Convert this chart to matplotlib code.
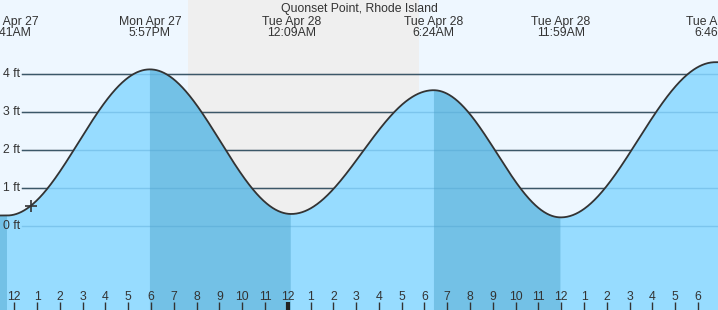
import numpy as np
import matplotlib
matplotlib.use("Agg")
import matplotlib.pyplot as plt
import matplotlib.transforms as mtransforms

# Tide chart for Quonset Point, RI (hours counted from Mon Apr 27, 12:00 PM)
station = "Quonset Point, Rhode Island"

# high / low tide predictions
event_days = ["Mon Apr 27", "Mon Apr 27", "Tue Apr 28", "Tue Apr 28", "Tue Apr 28", "Tue Apr 28"]
event_times = ["11:41AM", "5:57PM", "12:09AM", "6:24AM", "11:59AM", "6:46PM"]
event_heights = [0.27, 4.13, 0.31, 3.58, 0.22, 4.32]

sunset = "7:37PM"      # Mon
sunrise = "5:45AM"     # Tue
now_time = "12:43PM"   # Mon, the + marker

hour_labels = ["12", "1", "2", "3", "4", "5", "6", "7", "8", "9", "10", "11",
               "12", "1", "2", "3", "4", "5", "6", "7", "8", "9", "10", "11",
               "12", "1", "2", "3", "4", "5", "6"]
ft_levels = [0, 1, 2, 3, 4]

SKY = "#eef7ff"
NIGHT = "#efefef"
WATER = "#97dcff"
EBB = "#73c1e6"
INK = "#333333"


def to_hours(day, clock):
    """Hours since Mon 12:00 PM."""
    hm, ampm = clock[:-2], clock[-2:]
    h, m = [int(v) for v in hm.split(":")]
    h = h % 12 + (12 if ampm == "PM" else 0)
    offset = 24 if day.startswith("Tue") else 0
    return offset + h + m / 60.0 - 12


ev_t = np.array([to_hours(d, c) for d, c in zip(event_days, event_times)])
ev_h = np.array(event_heights)

x_lo, x_hi = -0.627, 30.88
y_lo, y_hi = -2.227, 5.963

# tide curve between successive extremes (half-cosine, as tide tables do)
t = np.linspace(x_lo, x_hi, 1500)
level = np.empty_like(t)
for k, tt in enumerate(t):
    if tt <= ev_t[0]:
        level[k] = ev_h[0]
    elif tt >= ev_t[-1]:
        level[k] = ev_h[-1]
    else:
        i = np.searchsorted(ev_t, tt) - 1
        f = (tt - ev_t[i]) / (ev_t[i + 1] - ev_t[i])
        level[k] = ev_h[i] + (ev_h[i + 1] - ev_h[i]) * (1 - np.cos(np.pi * f)) / 2
falling = np.gradient(level) < 0
falling |= t <= ev_t[0]

fig = plt.figure(figsize=(7.18, 3.10), dpi=100)
ax = fig.add_axes([0, 0, 1, 1])
ax.set_xlim(x_lo, x_hi)
ax.set_ylim(y_lo, y_hi)
ax.axis("off")
ax.add_patch(plt.Rectangle((0, 0), 1, 1, transform=ax.transAxes, color=SKY, zorder=0))

plt.rcParams["font.family"] = ["Liberation Sans", "DejaVu Sans"]

# night
ax.axvspan(to_hours("Mon", sunset), to_hours("Tue", sunrise), color=NIGHT, zorder=1, lw=0)

# grid lines above water
for lv in ft_levels[1:]:
    ax.axhline(lv, xmin=22 / 718, xmax=1, color=INK, lw=1, zorder=2)
for lv in ft_levels:
    ax.text(20 / 718, lv, f"{lv} ft", transform=mtransforms.blended_transform_factory(ax.transAxes, ax.transData),
            ha="right", va="center", fontsize=8.8, color=INK, zorder=6)

# water
ax.fill_between(t, y_lo, level, color=WATER, lw=0, zorder=3)
ax.fill_between(t, y_lo, level, where=falling, color=EBB, lw=0, zorder=3)
for lv in ft_levels:
    ax.axhline(lv, xmin=22 / 718, xmax=1, color="#4a9ccc", alpha=0.35, lw=1, zorder=4)
ax.plot(t, level, color=INK, lw=1.3, zorder=5)

# now marker
now_h = to_hours("Mon", now_time)
ax.plot([now_h], [np.interp(now_h, t, level)], marker="+", ms=9, mew=1.2, color=INK, zorder=6)

# hour ticks along the bottom
bt = mtransforms.blended_transform_factory(ax.transData, ax.transAxes)
for i, lab in enumerate(hour_labels):
    midnight = (i == 12)
    ax.plot([i, i], [0, 8 / 310], transform=bt, color="#222222" if midnight else INK,
            lw=3 if midnight else 1, solid_capstyle="butt", zorder=6)
    ax.text(i, 1 - 300 / 310, lab, transform=bt, ha="center", va="baseline",
            fontsize=8.8, color=INK, zorder=6)

# top labels
ax.text(0.5, 1 - 12 / 310, station, transform=ax.transAxes, ha="center", va="baseline",
        fontsize=8.8, color=INK, zorder=6)
for d, c, tt in zip(event_days, event_times, ev_t):
    ax.text(tt, 1 - 25 / 310, d, transform=bt, ha="center", va="baseline", fontsize=8.8, color=INK, zorder=6)
    ax.text(tt, 1 - 36 / 310, c, transform=bt, ha="center", va="baseline", fontsize=8.8, color=INK, zorder=6)

fig.savefig("out.png", dpi=100)
